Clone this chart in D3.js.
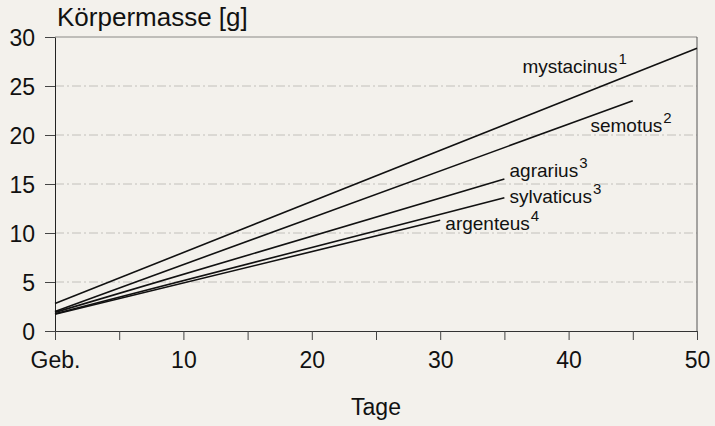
<!DOCTYPE html>
<html>
<head>
<meta charset="utf-8">
<script src="https://cdn.jsdelivr.net/npm/d3@7"></script>
<style>
  body { margin: 0; background: #f3f1ec; }
  text { font-family: "Liberation Sans", Arial, sans-serif; fill: #111; }
  .tick text { font-size: 23px; }
  .title { font-size: 26px; }
  .label { font-size: 19px; }
</style>
</head>
<body>
<div id="chart"></div>
<script>
//data
var species = ["mystacinus", "semotus", "agrarius", "sylvaticus", "argenteus"];
var footnotes = ["1", "2", "3", "3", "4"];
var startMass = [2.8, 2.0, 1.9, 1.75, 1.7];
var endDay = [50, 45, 35, 35, 30];
var endMass = [28.85, 23.5, 15.5, 13.6, 11.3];
var xTicks = [0, 10, 20, 30, 40, 50];
var xMinorTicks = [5, 15, 25, 35, 45];
var yTicks = [0, 5, 10, 15, 20, 25, 30];

//label anchors in data units (day, mass)
var labelPos = [[36.4, 26.3], [41.7, 20.35], [35.4, 15.75], [35.4, 13.05], [30.4, 10.3]];

//setup spacing size
var svg_w = 715;
var svg_h = 426;
var margin = {top: 37, right: 18, bottom: 95, left: 55};
var width = svg_w - margin.left - margin.right;
var height = svg_h - margin.top - margin.bottom;

var svg = d3.select("#chart")
    .append("svg")
    .attr("width", svg_w)
    .attr("height", svg_h);

var g = svg.append("g")
    .attr("transform", "translate(" + margin.left + "," + margin.top + ")");

//scales
var xScale = d3.scaleLinear().domain([0, 50]).range([0, width]);
var yScale = d3.scaleLinear().domain([0, 30]).range([height, 0]);

//gridlines
g.selectAll(".grid")
    .data(yTicks.filter(function(d) { return d > 0 && d < 30; }))
    .enter()
    .append("line")
    .attr("x1", 0)
    .attr("x2", width)
    .attr("y1", function(d) { return yScale(d); })
    .attr("y2", function(d) { return yScale(d); })
    .attr("stroke", "#c2c0bb")
    .attr("stroke-width", 1)
    .attr("stroke-dasharray", "9,3,2,3");

//frame top and right
g.append("line")
    .attr("x1", 0).attr("x2", width)
    .attr("y1", yScale(30)).attr("y2", yScale(30))
    .attr("stroke", "#8a8986");
g.append("line")
    .attr("x1", width).attr("x2", width)
    .attr("y1", yScale(30)).attr("y2", height)
    .attr("stroke", "#555");

//y axis
var yAxis = g.append("g")
    .call(d3.axisLeft(yScale).tickValues(yTicks).tickSize(10).tickPadding(10).tickSizeOuter(0));
yAxis.select(".domain").attr("stroke", "#222");
yAxis.selectAll(".tick line").attr("stroke", "#444");
yAxis.selectAll(".tick text").attr("dy", "0.36em");

//x axis
var xAxis = g.append("g")
    .attr("transform", "translate(0," + height + ")")
    .call(d3.axisBottom(xScale)
        .tickValues(xTicks.concat(xMinorTicks))
        .tickSize(9)
        .tickPadding(12)
        .tickSizeOuter(0)
        .tickFormat(function(d) {
            if (xMinorTicks.indexOf(d) >= 0) return "";
            return d === 0 ? "Geb." : d;
        }));
xAxis.select(".domain").attr("stroke", "#333");
xAxis.selectAll(".tick line").attr("stroke", "#444");

//growth lines
var lineData = species.map(function(s, i) {
    return [[0, startMass[i]], [endDay[i], endMass[i]]];
});
var line = d3.line()
    .x(function(d) { return xScale(d[0]); })
    .y(function(d) { return yScale(d[1]); });

g.selectAll(".growth")
    .data(lineData)
    .enter()
    .append("path")
    .attr("d", line)
    .attr("fill", "none")
    .attr("stroke", "#111")
    .attr("stroke-width", 1.6);

//species labels
var labels = g.selectAll(".label")
    .data(species)
    .enter()
    .append("text")
    .attr("class", "label")
    .attr("x", function(d, i) { return xScale(labelPos[i][0]); })
    .attr("y", function(d, i) { return yScale(labelPos[i][1]); })
    .text(function(d) { return d; });

labels.append("tspan")
    .attr("dy", -9)
    .attr("dx", 1)
    .style("font-size", "15px")
    .text(function(d, i) { return footnotes[i]; });

//title and x label
svg.append("text")
    .attr("class", "title")
    .attr("x", 57)
    .attr("y", 26)
    .text("Körpermasse [g]");

svg.append("text")
    .attr("x", margin.left + width / 2)
    .attr("y", 415)
    .attr("text-anchor", "middle")
    .style("font-size", "23px")
    .text("Tage");
</script>
</body>
</html>
